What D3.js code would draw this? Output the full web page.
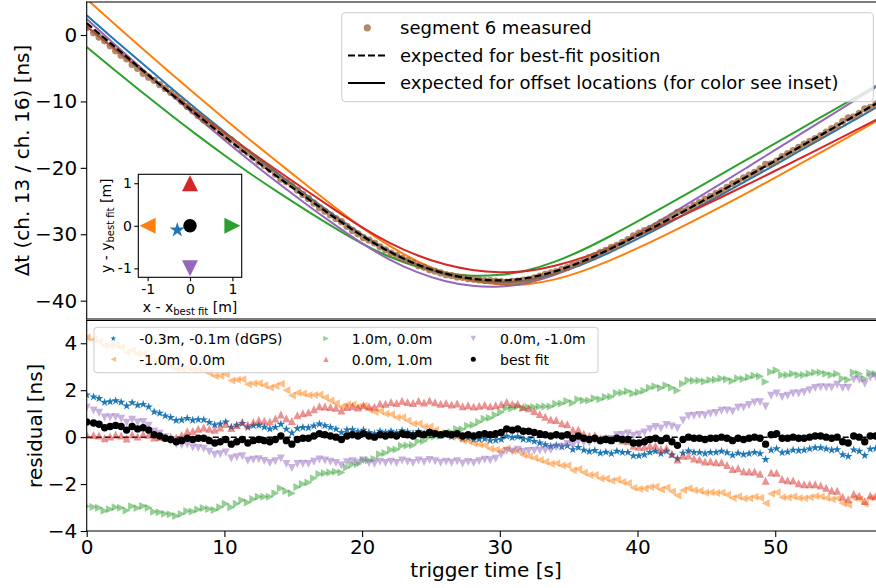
<!DOCTYPE html>
<html>
<head>
<meta charset="utf-8">
<script src="https://cdn.jsdelivr.net/npm/d3@7"></script>
<style>
  body { margin: 0; background: #fff; }
  svg { display: block; }
</style>
</head>
<body>
<svg id="chart" width="876" height="588"></svg>
<script>
// Trigger times of the recorded events [s]
const triggerTime = [
  0.0, 0.5, 0.9, 1.3, 1.7,   2.1, 2.5, 2.9, 3.3, 3.7,   4.1, 4.5, 4.9, 5.3, 5.7,
  6.1, 6.5, 6.9, 7.3, 7.7,   8.1, 8.5, 8.9, 9.3, 9.7,   10.1, 10.5, 10.9, 11.3, 11.7,
  12.1, 12.5, 12.9, 13.3, 13.7,   14.1, 14.5, 14.9, 15.3, 15.7,   16.1, 16.5, 16.9, 17.3, 17.7,
  18.1, 18.5, 18.9, 19.3, 19.7,   20.1, 20.5, 20.9, 21.3, 21.7,   22.1, 22.5, 22.9, 23.3, 23.7,
  24.1, 24.5, 24.9, 25.3, 25.7,   26.1, 26.5, 26.9, 27.3, 27.7,   28.1, 28.5, 28.9, 29.3, 29.7,
  30.1, 30.5, 30.9, 31.3, 31.7,   32.1, 32.5, 32.9, 33.3, 33.7,   34.1, 34.5, 34.9, 35.3, 35.7,
  36.1, 36.5, 36.9, 37.3, 37.7,   38.1, 38.5, 38.9, 39.3, 39.7,   40.1, 40.5, 40.9, 41.3, 41.7,
  42.1, 42.5, 42.9, 43.3, 43.7,   44.1, 44.5, 44.9, 45.3, 45.7,   46.1, 46.5, 46.9, 47.3, 47.7,
  48.1, 48.5, 48.9, 49.3, 49.7,   50.1, 50.5, 50.9, 51.3, 51.7,   52.1, 52.5, 52.9, 53.3, 53.7,
  54.1, 54.5, 54.9, 55.3, 55.7,   56.1, 56.5, 56.9, 57.3, 57.7
];

// Measured time difference, channel 13 vs channel 16 [ns]
const measuredDelay = [
  1.15, 0.33, -0.32, -0.88, -1.63,   -2.38, -3.03, -3.58, -4.43, -5.03,   -5.77, -6.35, -6.83, -7.46, -8.04,
  -8.67, -9.25, -9.98, -10.76, -11.39,   -12.12, -12.78, -13.34, -13.9, -14.61,   -15.36, -15.78, -16.5, -17.22, -17.69,
  -18.41, -19.08, -19.65, -20.22, -20.94,   -21.7, -22.1, -22.55, -23.35, -24.0,   -24.6, -25.3, -26.0, -26.55, -27.1,
  -27.64, -28.1, -28.81, -29.42, -29.93,   -30.51, -30.89, -31.32, -31.9, -32.33,   -32.84, -33.16, -33.64, -33.97, -34.3,
  -34.76, -34.98, -35.35, -35.57, -35.8,   -36.09, -36.21, -36.42, -36.48, -36.69,   -36.77, -36.87, -36.96, -36.96, -37.06,
  -37.13, -37.21, -37.09, -37.07, -36.9,   -36.8, -36.55, -36.3, -36.05, -35.8,   -35.62, -35.27, -35.02, -34.57, -34.37,
  -33.95, -33.53, -33.21, -32.74, -32.42,   -31.98, -31.68, -31.22, -30.81, -30.25,   -29.83, -29.45, -29.12, -28.74, -28.21,
  -27.88, -27.29, -26.7, -26.5, -26.16,   -25.66, -25.2, -24.7, -24.3, -23.85,   -23.45, -22.94, -22.38, -22.02, -21.51,
  -21.1, -20.68, -20.17, -19.46, -19.39,   -18.98, -18.31, -17.84, -17.42, -16.91,   -16.44, -16.02, -15.6, -15.13, -14.62,
  -14.1, -13.67, -13.0, -12.48, -12.31,   -11.79, -11.11, -10.89, -10.42, -9.9
];

// Residuals (expected - measured) [ns] for each assumed antenna location
const residualDGPS = [
  1.8, 1.72, 1.65, 1.48, 1.51,   1.55, 1.49, 1.33, 1.47, 1.36,   1.4, 1.29, 1.08, 1.02, 0.91,
  0.84, 0.71, 0.73, 0.8, 0.72,   0.75, 0.74, 0.63, 0.52, 0.56,   0.65, 0.43, 0.51, 0.59, 0.42,
  0.49, 0.51, 0.43, 0.35, 0.42,   0.55, 0.34, 0.18, 0.37, 0.41,   0.4, 0.48, 0.56, 0.49, 0.42,
  0.34, 0.2, 0.31, 0.32, 0.23,   0.3, 0.2, 0.15, 0.25, 0.2,   0.25, 0.19, 0.28, 0.22, 0.16,
  0.24, 0.16, 0.23, 0.15, 0.07,   0.1, 0.02, 0.05, -0.07, -0.04,   -0.11, -0.09, -0.07, -0.15, -0.13,
  -0.1, 0.04, -0.02, 0.02, -0.09,   -0.11, -0.18, -0.25, -0.32, -0.39,   -0.35, -0.41, -0.37, -0.53, -0.44,
  -0.55, -0.61, -0.57, -0.68, -0.64,   -0.7, -0.6, -0.65, -0.65, -0.8,   -0.8, -0.75, -0.65, -0.6, -0.7,
  -0.6, -0.76, -0.92, -0.68, -0.59,   -0.65, -0.65, -0.7, -0.65, -0.65,   -0.6, -0.66, -0.77, -0.68, -0.74,
  -0.7, -0.65, -0.7, -0.95, -0.55,   -0.49, -0.66, -0.63, -0.55, -0.57,   -0.55, -0.5, -0.45, -0.45, -0.5,
  -0.55, -0.53, -0.75, -0.82, -0.54,   -0.6, -0.78, -0.51, -0.49, -0.52
];
const residualLeft = [
  4.25, 4.16, 4.08, 3.9, 3.92,   3.94, 3.83, 3.62, 3.71, 3.55,   3.55, 3.45, 3.25, 3.2, 3.1,
  3.04, 2.9, 2.91, 2.97, 2.88,   2.89, 2.86, 2.73, 2.6, 2.62,   2.68, 2.41, 2.44, 2.47, 2.25,
  2.29, 2.3, 2.21, 2.12, 2.18,   2.28, 2.0, 1.77, 1.89, 1.86,   1.78, 1.8, 1.82, 1.69, 1.56,
  1.44, 1.29, 1.39, 1.39, 1.29,   1.34, 1.18, 1.07, 1.11, 1.0,   0.98, 0.84, 0.85, 0.71, 0.57,
  0.58, 0.44, 0.45, 0.31, 0.17,   0.13, 0.02, 0.01, -0.15, -0.16,   -0.27, -0.31, -0.35, -0.49, -0.53,
  -0.57, -0.48, -0.59, -0.6, -0.76,   -0.81, -0.89, -0.97, -1.05, -1.13,   -1.11, -1.21, -1.21, -1.41, -1.36,
  -1.51, -1.61, -1.61, -1.76, -1.76,   -1.86, -1.81, -1.91, -1.96, -2.16,   -2.21, -2.19, -2.12, -2.1, -2.23,
  -2.15, -2.32, -2.49, -2.26, -2.18,   -2.26, -2.29, -2.37, -2.35, -2.38,   -2.36, -2.45, -2.59, -2.53, -2.62,
  -2.6, -2.54, -2.58, -2.82, -2.41,   -2.35, -2.56, -2.57, -2.53, -2.59,   -2.6, -2.56, -2.52, -2.53, -2.59,
  -2.65, -2.61, -2.82, -2.88, -2.59,   -2.65, -2.84, -2.58, -2.57, -2.61
];
const residualRight = [
  -2.95, -2.98, -3.01, -3.14, -3.07,   -2.99, -3.01, -3.13, -2.95, -3.02,   -2.94, -3.01, -3.18, -3.2, -3.27,
  -3.29, -3.36, -3.28, -3.15, -3.17,   -3.08, -3.02, -3.06, -3.1, -2.99,   -2.84, -2.99, -2.84, -2.69, -2.79,
  -2.64, -2.54, -2.54, -2.54, -2.39,   -2.18, -2.31, -2.39, -2.12, -2.0,   -1.93, -1.75, -1.57, -1.54, -1.51,
  -1.48, -1.51, -1.29, -1.17, -1.15,   -0.98, -0.98, -0.93, -0.73, -0.68,   -0.54, -0.53, -0.37, -0.36, -0.35,
  -0.18, -0.16, 0.01, 0.03, 0.05,   0.17, 0.21, 0.35, 0.34, 0.48,   0.52, 0.65, 0.78, 0.81, 0.94,
  1.06, 1.24, 1.22, 1.3, 1.23,   1.27, 1.28, 1.29, 1.3, 1.31,   1.42, 1.43, 1.54, 1.45, 1.61,
  1.56, 1.56, 1.66, 1.61, 1.71,   1.72, 1.88, 1.89, 1.95, 1.86,   1.91, 1.98, 2.1, 2.17, 2.09,
  2.21, 2.1, 1.99, 2.28, 2.42,   2.4, 2.41, 2.37, 2.43, 2.44,   2.5, 2.47, 2.39, 2.51, 2.48,
  2.55, 2.62, 2.59, 2.36, 2.78,   2.85, 2.65, 2.65, 2.7, 2.65,   2.65, 2.7, 2.75, 2.75, 2.7,
  2.65, 2.7, 2.5, 2.45, 2.75,   2.7, 2.49, 2.73, 2.69, 2.62
];
const residualUp = [
  0.1, 0.09, 0.07, -0.05, 0.03,   0.1, 0.07, -0.06, 0.11, 0.03,   0.12, 0.1, -0.02, 0.01, -0.01,
  0.02, -0.02, 0.09, 0.25, 0.26,   0.36, 0.41, 0.36, 0.31, 0.41,   0.56, 0.39, 0.52, 0.65, 0.53,
  0.65, 0.73, 0.7, 0.67, 0.79,   0.96, 0.8, 0.69, 0.93, 1.02,   1.06, 1.19, 1.32, 1.3, 1.28,
  1.25, 1.14, 1.28, 1.32, 1.26,   1.36, 1.3, 1.29, 1.43, 1.42,   1.5, 1.45, 1.55, 1.5, 1.45,
  1.55, 1.48, 1.56, 1.49, 1.42,   1.45, 1.39, 1.43, 1.32, 1.36,   1.3, 1.34, 1.38, 1.32, 1.36,
  1.4, 1.5, 1.41, 1.42, 1.28,   1.23, 1.11, 0.99, 0.87, 0.75,   0.73, 0.59, 0.55, 0.31, 0.32,
  0.14, 0.06, 0.08, -0.05, -0.03,   -0.11, -0.05, -0.14, -0.18, -0.37,   -0.41, -0.41, -0.36, -0.36, -0.51,
  -0.47, -0.71, -0.95, -0.79, -0.78,   -0.91, -0.95, -1.04, -1.03, -1.07,   -1.07, -1.19, -1.36, -1.33, -1.45,
  -1.46, -1.46, -1.56, -1.86, -1.51,   -1.52, -1.78, -1.84, -1.85, -1.96,   -2.01, -2.01, -2.01, -2.06, -2.16,
  -2.27, -2.28, -2.54, -2.65, -2.41,   -2.5, -2.72, -2.49, -2.52, -2.59
];
const residualDown = [
  1.25, 1.14, 1.04, 0.84, 0.84,   0.85, 0.78, 0.61, 0.74, 0.62,   0.64, 0.49, 0.24, 0.14, -0.01,
  -0.12, -0.3, -0.33, -0.31, -0.44,   -0.46, -0.49, -0.62, -0.75, -0.73,   -0.66, -0.91, -0.86, -0.81, -1.01,
  -0.96, -0.94, -1.02, -1.1, -1.03,   -0.91, -1.14, -1.32, -1.15, -1.13,   -1.15, -1.05, -0.95, -1.0, -1.05,
  -1.1, -1.21, -1.07, -1.03, -1.09,   -1.0, -1.1, -1.15, -1.05, -1.1,   -1.05, -1.1, -1.0, -1.05, -1.1,
  -1.0, -1.06, -0.97, -1.03, -1.09,   -1.05, -1.09, -1.03, -1.12, -1.06,   -1.1, -1.03, -0.96, -0.99, -0.92,
  -0.75, -0.58, -0.61, -0.54, -0.62,   -0.59, -0.58, -0.57, -0.56, -0.55,   -0.43, -0.41, -0.29, -0.37, -0.2,
  -0.24, -0.24, -0.14, -0.19, -0.09,   -0.08, 0.08, 0.09, 0.15, 0.06,   0.11, 0.2, 0.34, 0.43, 0.37,
  0.52, 0.45, 0.38, 0.71, 0.89,   0.91, 0.94, 0.92, 1.0, 1.03,   1.12, 1.13, 1.09, 1.25, 1.26,
  1.37, 1.48, 1.49, 1.3, 1.76,   1.86, 1.71, 1.76, 1.86, 1.86,   1.91, 2.0, 2.09, 2.13, 2.12,
  2.12, 2.23, 2.09, 2.1, 2.46,   2.45, 2.27, 2.54, 2.57, 2.54
];
const residualBest = [
  0.65, 0.6, 0.55, 0.4, 0.45,   0.5, 0.45, 0.3, 0.45, 0.35,   0.4, 0.3, 0.1, 0.05, -0.05,
  -0.1, -0.2, -0.15, -0.05, -0.1,   -0.05, -0.05, -0.15, -0.25, -0.2,   -0.1, -0.3, -0.2, -0.1, -0.25,
  -0.15, -0.1, -0.15, -0.2, -0.1,   0.05, -0.15, -0.3, -0.1, -0.05,   -0.05, 0.05, 0.15, 0.1, 0.05,
  0.0, -0.1, 0.05, 0.1, 0.05,   0.15, 0.05, 0.0, 0.1, 0.05,   0.1, 0.05, 0.15, 0.1, 0.05,
  0.15, 0.1, 0.2, 0.15, 0.1,   0.15, 0.1, 0.15, 0.05, 0.1,   0.05, 0.1, 0.15, 0.1, 0.15,
  0.2, 0.35, 0.3, 0.35, 0.25,   0.25, 0.2, 0.15, 0.1, 0.05,   0.1, 0.05, 0.1, -0.05, 0.05,
  -0.05, -0.1, -0.05, -0.15, -0.1,   -0.15, -0.05, -0.1, -0.1, -0.25,   -0.25, -0.2, -0.1, -0.05, -0.15,
  -0.05, -0.2, -0.35, -0.1, 0.0,   -0.05, -0.05, -0.1, -0.05, -0.05,   0.0, -0.05, -0.15, -0.05, -0.1,
  -0.05, 0.0, -0.05, -0.3, 0.1,   0.15, -0.05, -0.05, 0.0, -0.05,   -0.05, 0.0, 0.05, 0.05, 0.0,
  -0.05, 0.0, -0.2, -0.25, 0.05,   0.0, -0.2, 0.05, 0.05, 0.0
];

// Expected delay curves [ns], sampled every 2 s
const modelTime = [0, 2, 4, 6, 8, 10, 12, 14, 16, 18, 20, 22, 24, 26, 28,
                   30, 32, 34, 36, 38, 40, 42, 44, 46, 48, 50, 52, 54, 56, 58];
const expectedBest = [1.8, -1.72, -5.2, -8.64, -12.0, -15.28, -18.48, -21.56, -24.56, -27.48,
  -30.24, -32.64, -34.54, -35.9, -36.7, -36.94, -36.59, -35.59, -34.09, -32.24,
  -30.19, -28.04, -25.82, -23.56, -21.26, -18.94, -16.6, -14.26, -11.9, -9.54];
const expectedDGPS = [2.95, -0.66, -4.23, -7.76, -11.21, -14.58, -17.88, -21.06, -24.16, -27.18,
  -30.04, -32.54, -34.54, -35.99, -36.88, -37.2, -36.92, -35.98, -34.53, -32.72,
  -30.7, -28.58, -26.38, -24.14, -21.85, -19.54, -17.2, -14.86, -12.5, -10.14];
const expectedLeft = [5.4, 1.7, -1.96, -5.58, -9.12, -12.6, -16.03, -19.36, -22.66, -25.9,
  -29.0, -31.76, -34.04, -35.78, -36.95, -37.54, -37.51, -36.79, -35.55, -33.94,
  -32.1, -30.13, -28.06, -25.92, -23.72, -21.47, -19.18, -16.87, -14.53, -12.18];
const expectedRight = [-1.8, -5.22, -8.57, -11.86, -15.04, -18.1, -21.04, -23.82, -26.48, -29.03,
  -31.4, -33.39, -34.87, -35.82, -36.23, -36.11, -35.43, -34.13, -32.37, -30.3,
  -28.07, -25.77, -23.43, -21.07, -18.69, -16.31, -13.93, -11.57, -9.2, -6.84];
const expectedUp = [1.25, -2.08, -5.35, -8.56, -11.68, -14.73, -17.73, -20.63, -23.48, -26.28,
  -28.95, -31.29, -33.16, -34.53, -35.38, -35.72, -35.53, -34.75, -33.52, -31.97,
  -30.23, -28.39, -26.47, -24.5, -22.48, -20.44, -18.37, -16.29, -14.18, -12.06];
const expectedDown = [2.4, -1.34, -5.06, -8.74, -12.33, -15.82, -19.2, -22.43, -25.55, -28.56,
  -31.38, -33.81, -35.71, -37.03, -37.75, -37.86, -37.33, -36.11, -34.36, -32.24,
  -29.91, -27.48, -24.98, -22.45, -19.88, -17.3, -14.71, -12.13, -9.54, -6.96];

// Assumed antenna positions relative to the best fit [m]
const seriesLabels = ["-0.3m, -0.1m (dGPS)", "-1.0m, 0.0m", "1.0m, 0.0m", "0.0m, 1.0m", "0.0m, -1.0m", "best fit"];
const offsetX = [-0.3, -1.0, 1.0, 0.0, 0.0, 0.0];
const offsetY = [-0.1, 0.0, 0.0, 1.0, -1.0, 0.0];
const seriesColors = ["#1f77b4", "#ff7f0e", "#2ca02c", "#d62728", "#9467bd", "#000000"];
const seriesMarkers = ["star", "left", "right", "up", "down", "circle"];
const seriesResiduals = [residualDGPS, residualLeft, residualRight, residualUp, residualDown, residualBest];
const seriesExpected = [expectedDGPS, expectedLeft, expectedRight, expectedUp, expectedDown, expectedBest];

// Axis ticks
const delayTicks = [0, -10, -20, -30, -40];
const residualTicks = [-4, -2, 0, 2, 4];
const timeTicks = [0, 10, 20, 30, 40, 50];
const insetTicks = [-1, 0, 1];

const FONT = "DejaVu Sans";
const MEAS_COLOR = "#9a6238";
const series = seriesLabels.map((label, s) => ({
  label, color: seriesColors[s], marker: seriesMarkers[s],
  dx: offsetX[s], dy: offsetY[s],
  residual: seriesResiduals[s], expected: seriesExpected[s]
}));

const svg = d3.select("#chart").attr("font-family", FONT);

// Layout
const plotL = 86.7, plotR = 885.4;
const topT = 2, topB = 319, botT = 320.5, botB = 531;

const x = d3.scaleLinear().domain([0, 58]).range([plotL, plotR]);
const yTop = d3.scaleLinear().domain([-42.76, 4.97]).range([topB, topT]);
const yBot = d3.scaleLinear().domain([-4, 4.97]).range([botB, botT]);

function markerPath(kind, s) {
  const h = s / 2;
  switch (kind) {
    case "up": return `M0,${-h}L${h},${h}L${-h},${h}Z`;
    case "down": return `M0,${h}L${h},${-h}L${-h},${-h}Z`;
    case "left": return `M${-h},0L${h},${-h}L${h},${h}Z`;
    case "right": return `M${h},0L${-h},${-h}L${-h},${h}Z`;
    case "star": return d3.symbol(d3.symbolStar, s * s * 0.2806)();
    default: return d3.symbol(d3.symbolCircle, Math.PI * h * h)();
  }
}
const markerSize = { star: 9, left: 8, right: 8, up: 8, down: 8, circle: 7.4 };
const markerAlpha = { star: 1, left: 0.5, right: 0.5, up: 0.5, down: 0.5, circle: 1 };

const defs = svg.append("defs");
defs.append("clipPath").attr("id", "clipTop").append("rect")
  .attr("x", plotL).attr("y", topT).attr("width", plotR - plotL).attr("height", topB - topT);
defs.append("clipPath").attr("id", "clipBot").append("rect")
  .attr("x", plotL).attr("y", botT).attr("width", plotR - plotL).attr("height", botB - botT);

// ---------- upper panel: delay vs time ----------
const gTop = svg.append("g").attr("clip-path", "url(#clipTop)");
const curve = d3.line()
  .x((d, i) => x(modelTime[i]))
  .y(d => yTop(d))
  .curve(d3.curveNatural);

series.slice(0, 5).forEach(s => {
  gTop.append("path").attr("d", curve(s.expected))
    .attr("fill", "none").attr("stroke", s.color).attr("stroke-width", 2);
});
gTop.selectAll("circle.meas").data(measuredDelay).join("circle")
  .attr("class", "meas")
  .attr("cx", (d, i) => x(triggerTime[i])).attr("cy", d => yTop(d)).attr("r", 3.6)
  .attr("fill", MEAS_COLOR).attr("fill-opacity", 0.75);
gTop.append("path").attr("d", curve(series[5].expected))
  .attr("fill", "none").attr("stroke", "#000").attr("stroke-width", 2.2)
  .attr("stroke-dasharray", "7,3");

// ---------- lower panel: residuals ----------
const gBot = svg.append("g").attr("clip-path", "url(#clipBot)");
gBot.append("line").attr("x1", plotL).attr("x2", plotR).attr("y1", yBot(0)).attr("y2", yBot(0))
  .attr("stroke", "#000").attr("stroke-width", 1.5).attr("stroke-dasharray", "6,3");
series.forEach(s => {
  gBot.selectAll(null).data(s.residual).join("path")
    .attr("d", markerPath(s.marker, markerSize[s.marker]))
    .attr("transform", (d, i) => `translate(${x(triggerTime[i])},${yBot(d)})`)
    .attr("fill", s.color).attr("fill-opacity", markerAlpha[s.marker]);
});

// ---------- spines and axes ----------
const spine = (x1, y1, x2, y2) => svg.append("line")
  .attr("x1", x1).attr("y1", y1).attr("x2", x2).attr("y2", y2)
  .attr("stroke", "#000").attr("stroke-width", 1.1).attr("stroke-linecap", "square");
spine(plotL, topT, plotR, topT);
spine(plotL, topB, plotR, topB);
spine(plotL, topT, plotL, topB);
spine(plotL, botT, plotR, botT);
spine(plotL, botB, plotR, botB);
spine(plotL, botT, plotL, botB);

function styleAxis(g, size) {
  g.attr("font-family", FONT).attr("font-size", size);
  g.select(".domain").remove();
  g.selectAll(".tick line").attr("stroke", "#000").attr("stroke-width", 1.1);
  g.selectAll(".tick text").attr("fill", "#000");
}
svg.append("g").attr("transform", `translate(${plotL},0)`)
  .call(d3.axisLeft(yTop).tickValues(delayTicks).tickSize(6).tickPadding(3.5))
  .call(g => styleAxis(g, 20));
svg.append("g").attr("transform", `translate(${plotL},0)`)
  .call(d3.axisLeft(yBot).tickValues(residualTicks).tickSize(6).tickPadding(3.5))
  .call(g => styleAxis(g, 20));
svg.append("g").attr("transform", `translate(0,${botB})`)
  .call(d3.axisBottom(x).tickValues(timeTicks).tickSize(6).tickPadding(2.5))
  .call(g => styleAxis(g, 20));

svg.append("text").attr("transform", `translate(29,${(topT + topB) / 2}) rotate(-90)`)
  .attr("text-anchor", "middle").attr("font-size", 20).text("Δt (ch. 13 / ch. 16) [ns]");
svg.append("text").attr("transform", `translate(42,${(botT + botB) / 2}) rotate(-90)`)
  .attr("text-anchor", "middle").attr("font-size", 20).text("residual [ns]");
svg.append("text").attr("x", (plotL + plotR) / 2).attr("y", 577)
  .attr("text-anchor", "middle").attr("font-size", 20).text("trigger time [s]");

// ---------- upper legend ----------
const lg = svg.append("g");
lg.append("rect").attr("x", 341.7).attr("y", 12.7).attr("width", 531.6).attr("height", 89)
  .attr("rx", 4).attr("fill", "#fff").attr("fill-opacity", 0.8)
  .attr("stroke", "#cccccc").attr("stroke-width", 1);
lg.append("circle").attr("cx", 367.3).attr("cy", 27.8).attr("r", 3.6)
  .attr("fill", MEAS_COLOR).attr("fill-opacity", 0.75);
lg.append("line").attr("x1", 348).attr("x2", 385).attr("y1", 55.5).attr("y2", 55.5)
  .attr("stroke", "#000").attr("stroke-width", 2.2).attr("stroke-dasharray", "7,3");
lg.append("line").attr("x1", 348).attr("x2", 385).attr("y1", 83).attr("y2", 83)
  .attr("stroke", "#000").attr("stroke-width", 2);
[["segment 6 measured", 33.8], ["expected for best-fit position", 61.8],
 ["expected for offset locations (for color see inset)", 89]].forEach(([t, yy]) => {
  lg.append("text").attr("x", 400).attr("y", yy).attr("font-size", 18).text(t);
});

// ---------- lower legend ----------
const lb = svg.append("g");
lb.append("rect").attr("x", 94).attr("y", 327.3).attr("width", 504).attr("height", 45.4)
  .attr("rx", 3).attr("fill", "#fff").attr("fill-opacity", 0.8)
  .attr("stroke", "#cccccc").attr("stroke-width", 1);
const legCols = [[113.3, 139.3], [326, 351.7], [473.3, 500]];
const legRows = [338.5, 359.3];
const legendMarker = { star: 6, left: 5.5, right: 5.5, up: 5.5, down: 5.5, circle: 5 };
series.forEach((s, k) => {
  const col = legCols[Math.floor(k / 2)], row = legRows[k % 2];
  lb.append("path").attr("d", markerPath(s.marker, legendMarker[s.marker]))
    .attr("transform", `translate(${col[0]},${row})`)
    .attr("fill", s.color).attr("fill-opacity", markerAlpha[s.marker]);
  lb.append("text").attr("x", col[1]).attr("y", row + 5.2).attr("font-size", 14).text(s.label);
});

// ---------- inset: assumed positions ----------
const inL = 138.3, inR = 241.7, inT = 174.3, inB = 277.3;
const ix = d3.scaleLinear().domain([-1.22, 1.22]).range([inL, inR]);
const iy = d3.scaleLinear().domain([-1.21, 1.21]).range([inB, inT]);
const gi = svg.append("g");
gi.append("rect").attr("x", inL).attr("y", inT).attr("width", inR - inL).attr("height", inB - inT)
  .attr("fill", "#fff").attr("stroke", "#000").attr("stroke-width", 1.1);
const insetSize = { star: 16, left: 16, right: 16, up: 16, down: 16, circle: 13.5 };
series.forEach(s => {
  gi.append("path").attr("d", markerPath(s.marker, insetSize[s.marker]))
    .attr("transform", `translate(${ix(s.dx)},${iy(s.dy)})`)
    .attr("fill", s.color);
});
const insetFmt = d => (d < 0 ? "-" + Math.abs(d) : String(d));
gi.append("g").attr("transform", `translate(0,${inB})`)
  .call(d3.axisBottom(ix).tickValues(insetTicks).tickFormat(insetFmt).tickSize(4).tickPadding(2.5))
  .call(g => styleAxis(g, 14));
gi.append("g").attr("transform", `translate(${inL},0)`)
  .call(d3.axisLeft(iy).tickValues(insetTicks).tickFormat(insetFmt).tickSize(4).tickPadding(2.5))
  .call(g => styleAxis(g, 14));
const xl = gi.append("text").attr("x", (inL + inR) / 2).attr("y", 311.5)
  .attr("text-anchor", "middle").attr("font-size", 14);
xl.append("tspan").text("x - x");
xl.append("tspan").attr("font-size", 10).attr("dy", 3).text("best fit");
xl.append("tspan").attr("dy", -3).text(" [m]");
const yl = gi.append("text").attr("transform", `translate(110.5,${(inT + inB) / 2}) rotate(-90)`)
  .attr("text-anchor", "middle").attr("font-size", 14);
yl.append("tspan").text("y - y");
yl.append("tspan").attr("font-size", 10).attr("dy", 3).text("best fit");
yl.append("tspan").attr("dy", -3).text(" [m]");
</script>
</body>
</html>
